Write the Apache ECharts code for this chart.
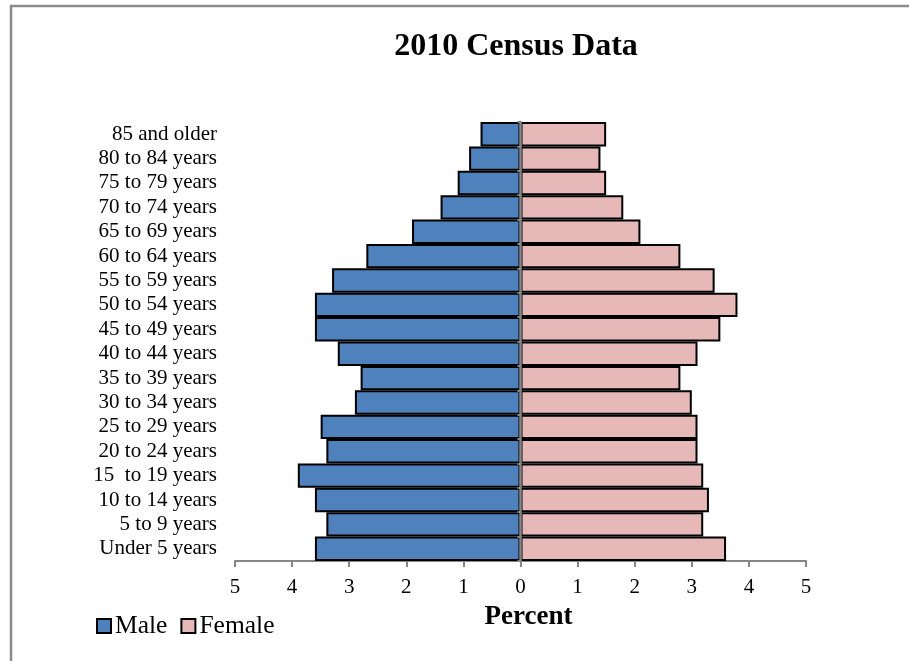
<!DOCTYPE html>
<html>
<head>
<meta charset="utf-8">
<script src="https://cdn.jsdelivr.net/npm/echarts@6/dist/echarts.min.js"></script>
<style>
  html, body { margin: 0; padding: 0; background: #fff; }
  #chart { width: 909px; height: 661px; }
</style>
</head>
<body>
<div id="chart"></div>
<script>
// Age groups, bottom to top
const ageGroups = [
  'Under 5 years', '5 to 9 years', '10 to 14 years', '15  to 19 years',
  '20 to 24 years', '25 to 29 years', '30 to 34 years', '35 to 39 years',
  '40 to 44 years', '45 to 49 years', '50 to 54 years', '55 to 59 years',
  '60 to 64 years', '65 to 69 years', '70 to 74 years', '75 to 79 years',
  '80 to 84 years', '85 and older'
];
// Percent of population
const malePercent = [3.6, 3.4, 3.6, 3.9, 3.4, 3.5, 2.9, 2.8, 3.2, 3.6, 3.6, 3.3, 2.7, 1.9, 1.4, 1.1, 0.9, 0.7];
const femalePercent = [3.6, 3.2, 3.3, 3.2, 3.1, 3.1, 3.0, 2.8, 3.1, 3.5, 3.8, 3.4, 2.8, 2.1, 1.8, 1.5, 1.4, 1.5];
const percentTicks = [-5, -4, -3, -2, -1, 0, 1, 2, 3, 4, 5];

const serif = '"Liberation Serif", "Times New Roman", serif';
const chart = echarts.init(document.getElementById('chart'));

chart.setOption({
  backgroundColor: '#fff',
  animation: false,
  graphic: [{
    type: 'rect',
    shape: { x: 11, y: 6, width: 1000, height: 800 },
    style: { fill: 'none', stroke: '#8a8a8a', lineWidth: 2.5 },
    silent: true, z: -1
  }],
  title: {
    text: '2010 Census Data',
    left: 511, top: 26, textAlign: 'center',
    textStyle: { fontFamily: serif, fontWeight: 'bold', fontSize: 32, color: '#000' }
  },
  legend: {
    left: 91, top: 608,
    itemWidth: 14, itemHeight: 14, itemGap: 13,
    icon: 'rect',
    textStyle: { fontFamily: serif, fontSize: 25.5, color: '#000', padding: [0, 0, 0, -1] },
    data: ['Male', 'Female']
  },
  grid: { left: 235, right: 103, top: 122, bottom: 100 },
  xAxis: {
    type: 'value',
    min: percentTicks[0], max: percentTicks[percentTicks.length - 1], interval: 1,
    name: 'Percent', nameLocation: 'middle', nameGap: 43,
    nameTextStyle: { fontFamily: serif, fontWeight: 'bold', fontSize: 27, color: '#000', padding: [0, 0, 0, 16] },
    axisLine: { show: true, lineStyle: { color: '#868686', width: 2 } },
    axisTick: { show: true, length: 6, lineStyle: { color: '#868686', width: 2 } },
    axisLabel: {
      fontFamily: serif, fontSize: 21, color: '#000', margin: 16,
      formatter: v => String(Math.abs(v))
    },
    splitLine: { show: false }
  },
  yAxis: [{
    type: 'category', data: ageGroups,
    axisLine: { show: false, onZero: false },
    axisTick: { show: false },
    axisLabel: { fontFamily: serif, fontSize: 21, color: '#000', margin: 18, interval: 0 }
  }, {
    type: 'category', data: ageGroups,
    position: 'left', z: 10,
    axisLine: { show: true, onZero: true, lineStyle: { color: '#868686', width: 2.5 } },
    axisTick: { show: true, length: 3, inside: false, interval: 0, lineStyle: { color: '#868686', width: 2 } },
    axisLabel: { show: false }
  }],
  series: [{
    name: 'Male', type: 'bar', stack: 'pop', yAxisIndex: 0,
    barCategoryGap: '0%',
    data: malePercent.map(v => -v),
    itemStyle: { color: '#4F81BD', borderColor: '#000', borderWidth: 2 }
  }, {
    name: 'Female', type: 'bar', stack: 'pop', yAxisIndex: 0,
    barCategoryGap: '0%',
    data: femalePercent,
    itemStyle: { color: '#E6B9B8', borderColor: '#000', borderWidth: 2 }
  }]
});
</script>
</body>
</html>
